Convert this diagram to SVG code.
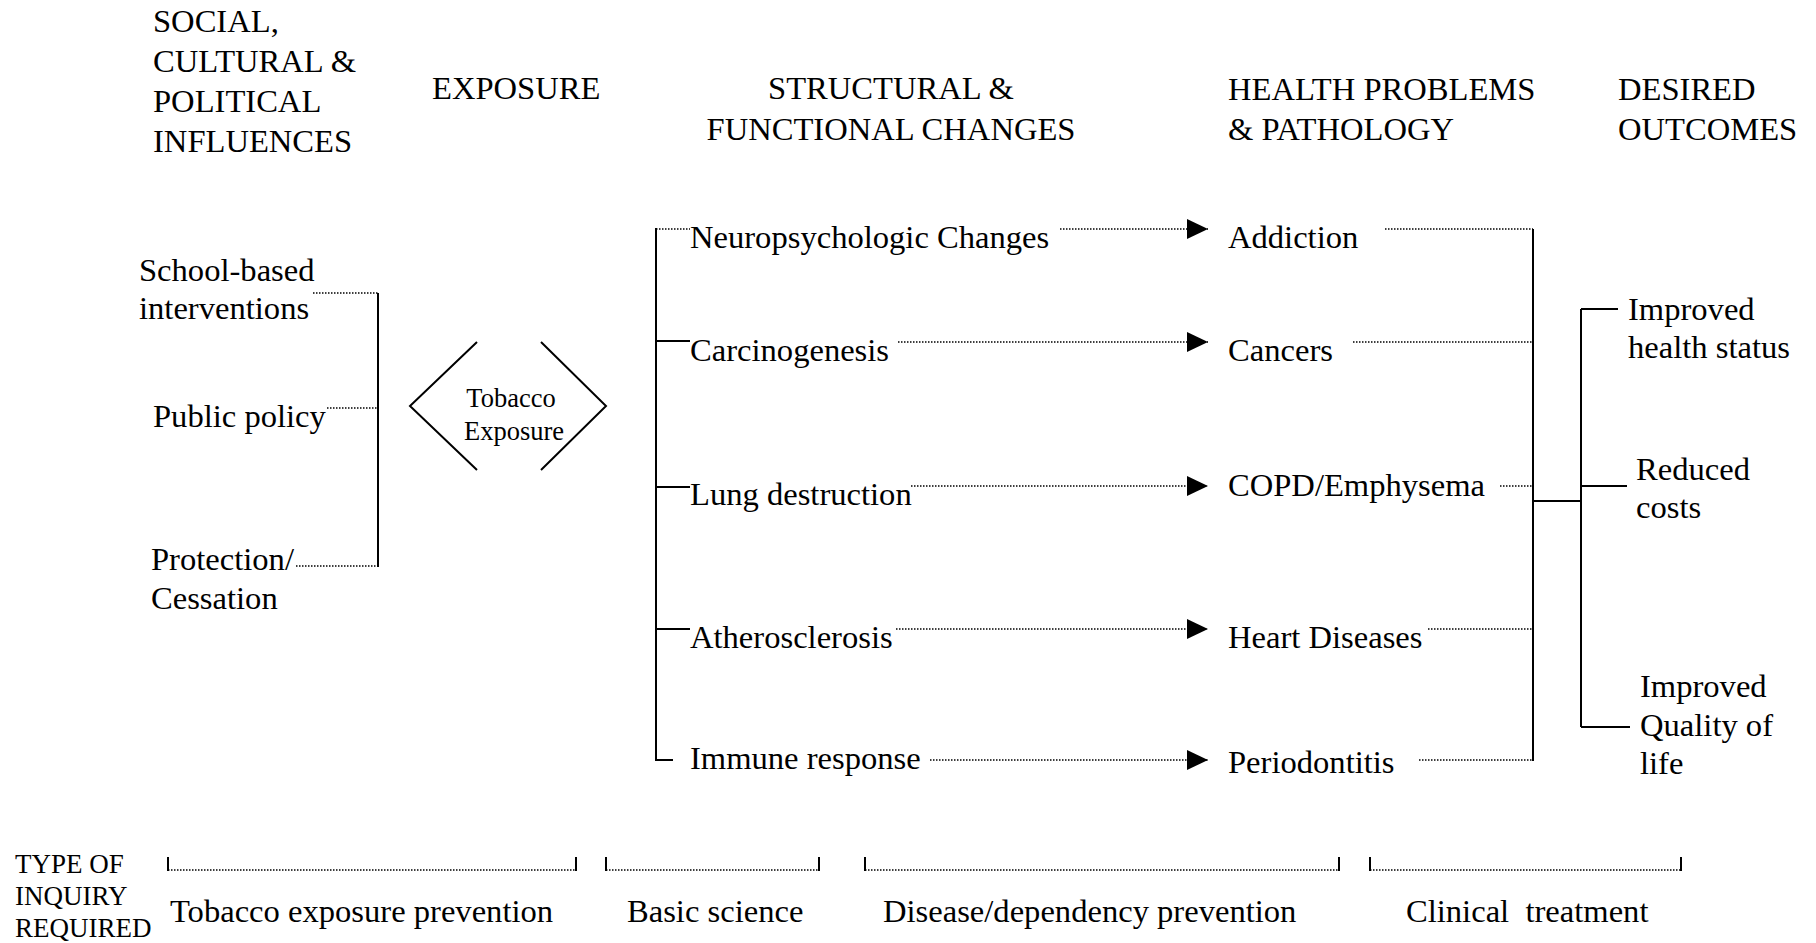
<svg xmlns="http://www.w3.org/2000/svg" width="1816" height="943" viewBox="0 0 1816 943">
<style>
text{font-family:"Liberation Serif","Times New Roman",serif;font-size:32.6px;fill:#000}
.sm{font-size:26.5px}
.bl{font-size:27px}
.solid{stroke:#000;stroke-width:2;fill:none}
.dot{stroke:#000;stroke-width:1.5;stroke-dasharray:1.5 1.5;fill:none}
</style>
<defs>
<marker id="arr" markerUnits="userSpaceOnUse" markerWidth="22" markerHeight="22" refX="21" refY="11" orient="auto">
<polygon points="0,1 21,11 0,21" fill="#000"/>
</marker>
</defs>
<rect width="1816" height="943" fill="#fff"/>

<g id="headers">
<text x="153" y="32">SOCIAL,</text>
<text x="153" y="72">CULTURAL &amp;</text>
<text x="153" y="112">POLITICAL</text>
<text x="153" y="152">INFLUENCES</text>
<text x="432" y="99">EXPOSURE</text>
<text x="891" y="99" text-anchor="middle">STRUCTURAL &amp;</text>
<text x="891" y="140" text-anchor="middle">FUNCTIONAL CHANGES</text>
<text x="1228" y="100">HEALTH PROBLEMS</text>
<text x="1228" y="140">&amp; PATHOLOGY</text>
<text x="1618" y="100">DESIRED</text>
<text x="1618" y="140">OUTCOMES</text>
</g>

<g id="influences">
<g id="school"><text x="139" y="281">School-based</text><text x="139" y="319">interventions</text></g>
<g id="policy"><text x="153" y="427">Public policy</text></g>
<g id="protection"><text x="151" y="570">Protection/</text><text x="151" y="609">Cessation</text></g>
</g>

<g id="tobacco-exposure">
<polyline class="solid" points="477,342 410,406 477,470"/>
<polyline class="solid" points="541,342 606,406 541,470"/>
<text class="sm" x="511" y="407" text-anchor="middle">Tobacco</text>
<text class="sm" x="514" y="440" text-anchor="middle">Exposure</text>
</g>

<g id="changes">
<text id="neuro" x="690" y="248">Neuropsychologic Changes</text>
<text id="carcino" x="690" y="361">Carcinogenesis</text>
<text id="lung" x="690" y="505">Lung destruction</text>
<text id="athero" x="690" y="648">Atherosclerosis</text>
<text id="immune" x="690" y="769">Immune response</text>
</g>

<g id="problems">
<text id="addiction" x="1228" y="248">Addiction</text>
<text id="cancers" x="1228" y="361">Cancers</text>
<text id="copd" x="1228" y="496">COPD/Emphysema</text>
<text id="heart" x="1228" y="648">Heart Diseases</text>
<text id="perio" x="1228" y="773">Periodontitis</text>
</g>

<g id="outcomes">
<g id="health-status"><text x="1628" y="320">Improved</text><text x="1628" y="358">health status</text></g>
<g id="reduced-costs"><text x="1636" y="480">Reduced</text><text x="1636" y="518">costs</text></g>
<g id="quality"><text x="1640" y="697">Improved</text><text x="1640" y="736">Quality of</text><text x="1640" y="774">life</text></g>
</g>

<g id="inquiry">
<text class="bl" x="15" y="873">TYPE OF</text>
<text class="bl" x="15" y="905">INQUIRY</text>
<text class="bl" x="15" y="937">REQUIRED</text>
<text x="170" y="922">Tobacco exposure prevention</text>
<text x="627" y="922">Basic science</text>
<text x="883" y="922">Disease/dependency prevention</text>
<text x="1406" y="922" xml:space="preserve">Clinical  treatment</text>
</g>

<g id="connectors">
<line class="solid" x1="378" y1="293" x2="378" y2="567"/>
<line class="dot" x1="313" y1="293" x2="378" y2="293"/>
<line class="dot" x1="327" y1="408" x2="378" y2="408"/>
<line class="dot" x1="296" y1="566" x2="378" y2="566"/>
<line class="solid" x1="656" y1="228" x2="656" y2="761"/>
<line class="dot" x1="656" y1="229" x2="690" y2="229"/>
<line class="solid" x1="656" y1="341" x2="690" y2="341"/>
<line class="solid" x1="656" y1="487" x2="690" y2="487"/>
<line class="solid" x1="656" y1="629" x2="690" y2="629"/>
<line class="solid" x1="656" y1="760" x2="673" y2="760"/>
<line class="dot" x1="1060" y1="229" x2="1208" y2="229" marker-end="url(#arr)"/>
<line class="dot" x1="898" y1="342" x2="1208" y2="342" marker-end="url(#arr)"/>
<line class="dot" x1="911" y1="486" x2="1208" y2="486" marker-end="url(#arr)"/>
<line class="dot" x1="896" y1="629" x2="1208" y2="629" marker-end="url(#arr)"/>
<line class="dot" x1="930" y1="760" x2="1208" y2="760" marker-end="url(#arr)"/>
<line class="solid" x1="1533" y1="229" x2="1533" y2="761"/>
<line class="dot" x1="1385" y1="229" x2="1533" y2="229"/>
<line class="dot" x1="1353" y1="342" x2="1533" y2="342"/>
<line class="dot" x1="1500" y1="486" x2="1533" y2="486"/>
<line class="dot" x1="1428" y1="629" x2="1533" y2="629"/>
<line class="dot" x1="1419" y1="760" x2="1533" y2="760"/>
<line class="solid" x1="1533" y1="501" x2="1581" y2="501"/>
<line class="solid" x1="1581" y1="309" x2="1581" y2="727"/>
<line class="solid" x1="1581" y1="309" x2="1618" y2="309"/>
<line class="solid" x1="1581" y1="486" x2="1627" y2="486"/>
<line class="solid" x1="1581" y1="727" x2="1630" y2="727"/>
<path class="solid" stroke-width="1.5" d="M168,857 V871 M576,857 V871 M606,857 V871 M819,857 V871 M865,857 V871 M1339,857 V871 M1370,857 V871 M1681,857 V871"/>
<line class="dot" x1="168" y1="870" x2="576" y2="870"/>
<line class="dot" x1="606" y1="870" x2="819" y2="870"/>
<line class="dot" x1="865" y1="870" x2="1339" y2="870"/>
<line class="dot" x1="1370" y1="870" x2="1681" y2="870"/>
</g>
</svg>
